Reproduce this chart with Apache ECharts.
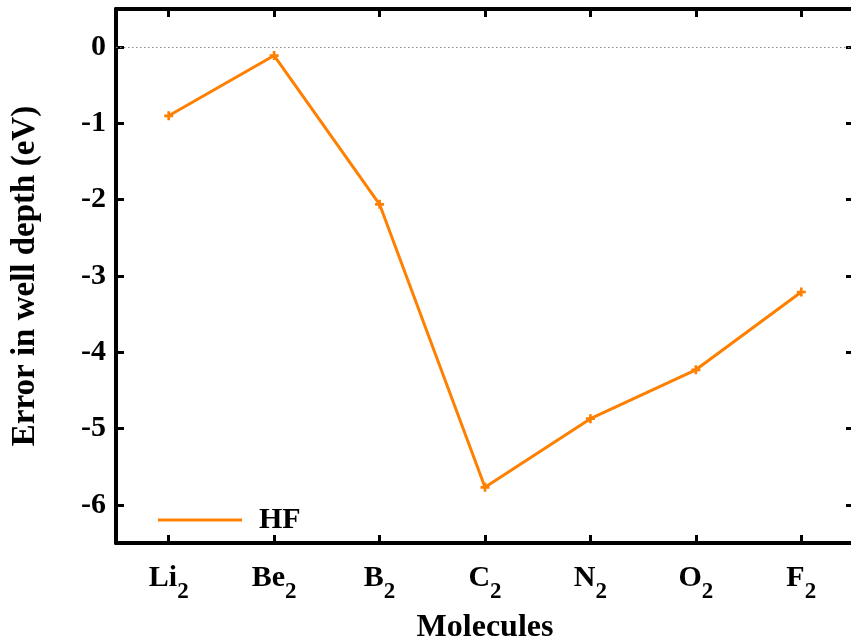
<!DOCTYPE html>
<html>
<head>
<meta charset="utf-8">
<script src="https://cdn.jsdelivr.net/npm/echarts@6/dist/echarts.min.js"></script>
<style>
  html, body { margin: 0; padding: 0; background: #fff; }
  #chart { width: 851px; height: 641px; }
</style>
</head>
<body>
<div id="chart"></div>
<script>
  const molecules = ['Li', 'Be', 'B', 'C', 'N', 'O', 'F'];
  const hfError = [-0.90, -0.11, -2.06, -5.77, -4.87, -4.23, -3.21];
  const yTicks = [-6, -5, -4, -3, -2, -1, 0];

  const font = 'Liberation Serif';
  const orange = '#ff8000';
  const plus = 'path://M3.5,0 H6.5 V3.5 H10 V6.5 H6.5 V10 H3.5 V6.5 H0 V3.5 H3.5 Z';

  const chart = echarts.init(document.getElementById('chart'));

  const tickStyle = { show: true, inside: true, length: 8, lineStyle: { color: '#000', width: 3 } };
  const lineStyle = { show: true, onZero: false, lineStyle: { color: '#000', width: 4 } };

  chart.setOption({
    animation: false,
    backgroundColor: '#fff',
    grid: { left: 116, width: 738, top: 9, height: 534, outerBoundsMode: 'none', containLabel: false },
    legend: {
      data: ['HF'],
      left: 153,
      top: 500,
      icon: 'rect',
      itemWidth: 84,
      itemHeight: 3,
      textStyle: { fontFamily: font, fontWeight: 'bold', fontSize: 30, color: '#000', padding: [0, 0, 0, 12] }
    },
    xAxis: [
      {
        type: 'category',
        data: molecules,
        position: 'bottom',
        name: 'Molecules',
        nameLocation: 'middle',
        nameGap: 69,
        nameTextStyle: { fontFamily: font, fontWeight: 'bold', fontSize: 32, color: '#000' },
        axisLine: lineStyle,
        axisTick: Object.assign({ alignWithLabel: true }, tickStyle),
        axisLabel: {
          margin: 20,
          formatter: (v) => '{m|' + v + '}{s|2}',
          rich: {
            m: { fontFamily: font, fontWeight: 'bold', fontSize: 30, color: '#000', lineHeight: 41, verticalAlign: 'top' },
            s: { fontFamily: font, fontWeight: 'bold', fontSize: 23, color: '#000', lineHeight: 41, verticalAlign: 'bottom' }
          }
        },
        splitLine: { show: false }
      },
      {
        type: 'category',
        data: molecules,
        position: 'top',
        axisLine: lineStyle,
        axisTick: Object.assign({ alignWithLabel: true }, tickStyle),
        axisLabel: { show: false },
        splitLine: { show: false }
      }
    ],
    yAxis: [
      {
        type: 'value',
        min: -6.5,
        max: 0.5,
        name: 'Error in well depth (eV)',
        nameLocation: 'middle',
        nameGap: 74,
        nameRotate: 90,
        nameTextStyle: { fontFamily: font, fontWeight: 'bold', fontSize: 33, color: '#000' },
        axisLine: lineStyle,
        axisTick: Object.assign({ customValues: yTicks }, tickStyle),
        axisLabel: {
          customValues: yTicks,
          margin: 10,
          fontFamily: font, fontWeight: 'bold', fontSize: 30, color: '#000'
        },
        splitLine: { show: false }
      },
      {
        type: 'value',
        min: -6.5,
        max: 0.5,
        position: 'right',
        axisLine: lineStyle,
        axisTick: Object.assign({ customValues: yTicks }, tickStyle),
        axisLabel: { show: false },
        splitLine: { show: false }
      }
    ],
    series: [
      {
        name: 'HF',
        type: 'line',
        data: hfError,
        symbol: plus,
        symbolSize: 9,
        itemStyle: { color: orange },
        lineStyle: { color: orange, width: 3 },
        markLine: {
          silent: true,
          symbol: 'none',
          label: { show: false },
          lineStyle: { color: '#888', type: [1.5, 2.5], width: 1 },
          data: [{ yAxis: 0 }]
        }
      }
    ]
  });
</script>
</body>
</html>
